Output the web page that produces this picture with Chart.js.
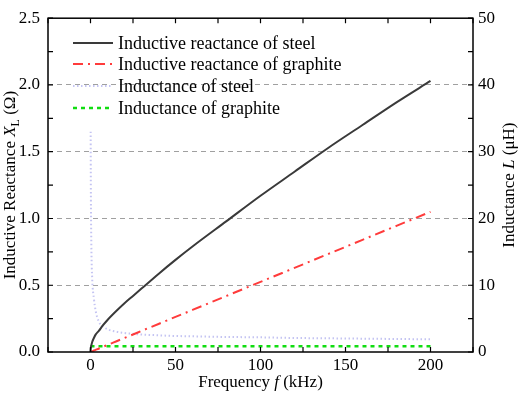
<!DOCTYPE html>
<html>
<head>
<meta charset="utf-8">
<script src="https://cdn.jsdelivr.net/npm/chart.js@4"></script>
<style>
  body { margin: 0; background: #fff; }
  canvas { display: block; }
</style>
</head>
<body>
<canvas id="diagram" width="519" height="395"></canvas>
<script>
// frekvens i kHz
const freq = [0, 0.1, 0.2, 0.5, 1, 2, 3, 5, 7, 10, 15, 20, 25, 30, 40, 50, 60, 80, 100, 120, 140, 160, 180, 200];
// induktiv reaktans (ohm)
const steelX = [0, 0.02, 0.03, 0.05, 0.075, 0.105, 0.13, 0.16, 0.195, 0.24, 0.305, 0.365, 0.42, 0.475, 0.585, 0.69, 0.79, 0.98, 1.17, 1.35, 1.53, 1.7, 1.87, 2.03];
const graphiteX = [0, 0.0005, 0.001, 0.003, 0.005, 0.011, 0.016, 0.026, 0.037, 0.053, 0.079, 0.105, 0.131, 0.158, 0.21, 0.263, 0.315, 0.42, 0.525, 0.63, 0.735, 0.84, 0.945, 1.05];
// induktans (uH)
const steelL = [null, 33, 25, 16, 11, 8, 6.2, 4.5, 3.9, 3.4, 3.05, 2.85, 2.72, 2.62, 2.5, 2.4, 2.35, 2.25, 2.2, 2.1, 2.05, 2.0, 1.95, 1.9];
const graphiteL = [0.88, 0.88, 0.88, 0.88, 0.88, 0.88, 0.88, 0.88, 0.88, 0.88, 0.88, 0.88, 0.88, 0.88, 0.88, 0.88, 0.88, 0.88, 0.88, 0.88, 0.88, 0.88, 0.88, 0.88];

const labels = ["Inductive reactance of steel", "Inductive reactance of graphite", "Inductance of steel", "Inductance of graphite"];

// tick labels
const xTicks = [0, 50, 100, 150, 200];
const yTicks = [0, 0.5, 1.0, 1.5, 2.0, 2.5];
const y1Ticks = [0, 10, 20, 30, 40, 50];

const FONT = "'Liberation Serif', 'Times New Roman', serif";

function pts(ys) {
  const out = [];
  for (let i = 0; i < freq.length; i++) {
    if (ys[i] !== null) out.push({ x: freq[i], y: ys[i] });
  }
  return out;
}

const datasets = [
  { label: labels[0], data: pts(steelX), yAxisID: "y", borderColor: "#3a3a3a", borderWidth: 2, borderDash: [] },
  { label: labels[1], data: pts(graphiteX), yAxisID: "y", borderColor: "#ff3b3b", borderWidth: 2, borderDash: [10, 5, 2, 5] },
  { label: labels[2], data: pts(steelL), yAxisID: "y1", borderColor: "#c4c4f2", borderWidth: 2, borderDash: [1.5, 2.5] },
  { label: labels[3], data: pts(graphiteL), yAxisID: "y1", borderColor: "#11dd11", borderWidth: 2.5, borderDash: [4, 4] },
];
datasets.forEach((d) => {
  d.pointRadius = 0;
  d.fill = false;
  d.cubicInterpolationMode = "monotone";
});

// text med kursiv/nedsänkt delar
function richText(ctx, parts, cx, cy, rot) {
  ctx.save();
  ctx.translate(cx, cy);
  if (rot) ctx.rotate(rot);
  ctx.textBaseline = "middle";
  ctx.fillStyle = "#000";
  let w = 0;
  parts.forEach((p) => {
    ctx.font = (p.i ? "italic " : "") + (p.sub ? "12px " : "17px ") + FONT;
    p.w = ctx.measureText(p.t).width;
    w += p.w;
  });
  let x = -w / 2;
  parts.forEach((p) => {
    ctx.font = (p.i ? "italic " : "") + (p.sub ? "12px " : "17px ") + FONT;
    ctx.fillText(p.t, x, p.sub ? 5 : 0);
    x += p.w;
  });
  ctx.restore();
}

const framePlugin = {
  id: "frame",
  afterDraw(chart) {
    const ctx = chart.ctx;
    const a = chart.chartArea;
    const sx = chart.scales.x, sy = chart.scales.y, sy1 = chart.scales.y1;
    ctx.save();
    ctx.strokeStyle = "#000";
    ctx.lineWidth = 1.5;
    ctx.strokeRect(a.left, a.top, a.right - a.left, a.bottom - a.top);
    ctx.lineWidth = 1.2;
    ctx.beginPath();
    for (let v = -25; v <= 225; v += 25) {
      const px = sx.getPixelForValue(v);
      ctx.moveTo(px, a.bottom); ctx.lineTo(px, a.bottom - 5);
      ctx.moveTo(px, a.top); ctx.lineTo(px, a.top + 5);
    }
    for (let v = 0; v <= 2.5; v += 0.25) {
      const py = sy.getPixelForValue(v);
      ctx.moveTo(a.left, py); ctx.lineTo(a.left + 5, py);
    }
    for (let v = 0; v <= 50; v += 5) {
      const py = sy1.getPixelForValue(v);
      ctx.moveTo(a.right, py); ctx.lineTo(a.right - 5, py);
    }
    ctx.stroke();

    // legend inne i diagrammet
    const rows = [43, 64, 86, 108];
    chart.data.datasets.forEach((d, i) => {
      ctx.strokeStyle = d.borderColor;
      ctx.lineWidth = d.borderWidth;
      ctx.setLineDash(d.borderDash);
      ctx.beginPath();
      ctx.moveTo(73, rows[i]);
      ctx.lineTo(113, rows[i]);
      ctx.stroke();
      ctx.setLineDash([]);
      ctx.fillStyle = "#000";
      ctx.font = "18px " + FONT;
      ctx.textBaseline = "middle";
      ctx.fillText(d.label, 118, rows[i] + 1);
    });
    ctx.restore();

    // axeltitlar
    richText(ctx, [{ t: "Inductive Reactance " }, { t: "X", i: true }, { t: "L", sub: true }, { t: " (Ω)" }], 11, (a.top + a.bottom) / 2, -Math.PI / 2);
    richText(ctx, [{ t: "Inductance " }, { t: "L", i: true }, { t: " (μH)" }], 510, (a.top + a.bottom) / 2, -Math.PI / 2);
    richText(ctx, [{ t: "Frequency " }, { t: "f", i: true }, { t: " (kHz)" }], (a.left + a.right) / 2, 383, 0);
  },
};

const config = {
  type: "line",
  data: { datasets },
  options: {
    responsive: false,
    animation: false,
    devicePixelRatio: 1,
    layout: { padding: { top: 7, left: 0, right: 0, bottom: 0 } },
    plugins: { legend: { display: false }, tooltip: { enabled: false } },
    scales: {
      x: {
        type: "linear",
        min: -25,
        max: 225,
        afterBuildTicks: (s) => { s.ticks = xTicks.map((v) => ({ value: v })); },
        afterFit: (s) => { s.height = 43; },
        ticks: { font: { family: FONT, size: 17 }, color: "#000", padding: 3, maxRotation: 0 },
        grid: { display: false, drawTicks: false },
        border: { display: false },
      },
      y: {
        position: "left",
        min: 0,
        max: 2.5,
        afterBuildTicks: (s) => { s.ticks = yTicks.map((v) => ({ value: v })); },
        afterFit: (s) => { s.width = 48; },
        ticks: { font: { family: FONT, size: 17 }, color: "#000", padding: 8, callback: (v) => v.toFixed(1) },
        grid: {
          drawTicks: false,
          lineWidth: 1,
          color: (c) => (c.tick && (c.tick.value === 0 || c.tick.value === 2.5) ? "rgba(0,0,0,0)" : "#a0a0a0"),
        },
        border: { display: false, dash: [5, 4] },
      },
      y1: {
        position: "right",
        min: 0,
        max: 50,
        afterBuildTicks: (s) => { s.ticks = y1Ticks.map((v) => ({ value: v })); },
        afterFit: (s) => { s.width = 46; },
        ticks: { font: { family: FONT, size: 17 }, color: "#000", padding: 5 },
        grid: { display: false, drawTicks: false },
        border: { display: false },
      },
    },
  },
  plugins: [framePlugin],
};

const canvas = document.getElementById("diagram");
const chart = new Chart(canvas, config);
</script>
</body>
</html>
